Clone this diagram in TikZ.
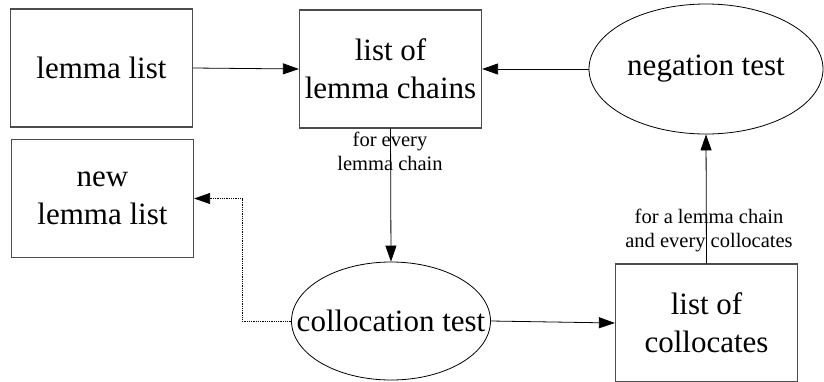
\documentclass[tikz,border=0pt]{standalone}
\usepackage{fontspec}
\setmainfont{Liberation Serif}
\usetikzlibrary{arrows.meta,shapes.geometric}
\begin{document}
\begin{tikzpicture}[x=1pt,y=-1pt,
    box/.style={draw=black!70,line width=1.2pt,fill=white,inner sep=0pt,
      minimum width=182pt,minimum height=118pt,align=center,
      font=\fontsize{31}{38}\selectfont},
    oval/.style={ellipse,draw=black,line width=0.8pt,fill=white,inner sep=0pt,
      font=\fontsize{31}{38}\selectfont},
    lbl/.style={align=center,inner sep=0pt,font=\fontsize{20.5}{24}\selectfont},
    flow/.style={line width=0.8pt,-{Triangle[length=16pt,width=11pt]}},
    dotflow/.style={flow,densely dotted}]
    \useasboundingbox (0,0) rectangle (824,381);
    \clip (0,0) rectangle (824,381);

    % Marking the lists
    \node[box] (lemma) at (101.5,68) {lemma list};
    \node[box] (chains) at (390.5,69) {list of\\lemma chains};
    \node[box] (newlemma) at (102.5,198.5) {new\\lemma list};
    \node[box] (collocates) at (706.5,323) {list of\\collocates};

    % Marking the tests (text in a zero-width box, so the ellipse keeps its size)
    \node[oval,minimum width=234pt,minimum height=130pt] (negation) at (706,69)
      {\makebox[0pt]{negation test}};
    \node[oval,minimum width=199pt,minimum height=118pt] (colloc) at (391,321)
      {\makebox[0pt]{collocation test}};

    % Drawing the connectors
    \draw[flow] (lemma.east) -- (chains.west);
    \draw[flow] (negation.west) -- (chains.east);
    \draw[flow] (chains.south) -- (colloc.north);
    \draw[flow] (colloc.east) -- (collocates.west);
    \draw[flow] (collocates.north) -- (negation.south);
    \draw[dotflow] (colloc.west) -- ++(-49,0) |- (newlemma.east);

    % Marking the connector labels
    \node[lbl] (everychain) at (390,151.5) {for every\\lemma chain};
    \node[lbl] (everycolloc) at (709,230.5) {for a lemma chain\\and every collocates};
\end{tikzpicture}
\end{document}
